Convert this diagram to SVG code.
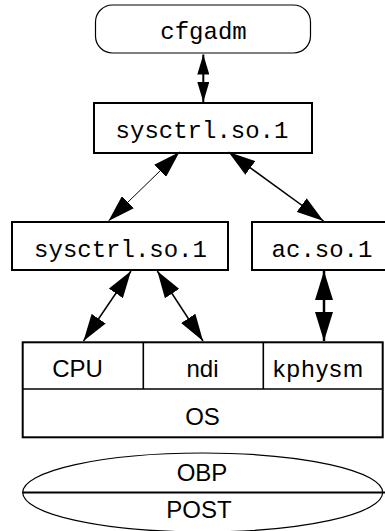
<svg xmlns="http://www.w3.org/2000/svg" width="385" height="531" viewBox="0 0 385 531">
<defs>
<style>
.box{fill:#fff;stroke:#000;stroke-width:2}
.thin{fill:none;stroke:#000;stroke-width:1.2}
.mono{font-family:"Liberation Mono","Courier New",monospace;font-size:24px;fill:#000;text-anchor:middle}
.sans{font-family:"Liberation Sans",Arial,sans-serif;font-size:24px;fill:#000;text-anchor:middle}
.conn line{stroke:#000}
</style>
<marker id="hs" markerUnits="userSpaceOnUse" markerWidth="20" markerHeight="12" refX="20" refY="6" orient="auto-start-reverse" viewBox="0 0 20 12">
<path d="M0,0 L20,6 L0,12 Z" fill="#000"/>
</marker>
<marker id="hb" markerUnits="userSpaceOnUse" markerWidth="27" markerHeight="17" refX="27" refY="8.5" orient="auto-start-reverse" viewBox="0 0 27 17">
<path d="M0,0 L27,8.5 L0,17 Z" fill="#000"/>
</marker>
<marker id="hk" markerUnits="userSpaceOnUse" markerWidth="29" markerHeight="18" refX="29" refY="9" orient="auto-start-reverse" viewBox="0 0 29 18">
<path d="M0,0 L29,9 L0,18 Z" fill="#000"/>
</marker>
</defs>
<g id="cfgadm">
<rect class="thin" x="95.5" y="5" width="215" height="48" rx="17" ry="17"/>
<text class="mono" x="203.5" y="39">cfgadm</text>
</g>
<g id="sysctrl-top">
<rect class="box" x="94" y="103" width="218" height="50"/>
<text class="mono" x="202" y="138">sysctrl.so.1</text>
</g>
<g id="sysctrl-left">
<rect class="box" x="12" y="222" width="216" height="48"/>
<text class="mono" x="120.5" y="256.5">sysctrl.so.1</text>
</g>
<g id="ac">
<rect class="box" x="252" y="222" width="140" height="48"/>
<text class="mono" x="322" y="256.5">ac.so.1</text>
</g>
<g id="kernel">
<rect class="box" x="22.7" y="342.3" width="360" height="95"/>
<line x1="22.7" y1="389" x2="382.7" y2="389" stroke="#000" stroke-width="1.6"/>
<line x1="143.3" y1="342.3" x2="143.3" y2="389" stroke="#000" stroke-width="1.6"/>
<line x1="263.3" y1="342.3" x2="263.3" y2="389" stroke="#000" stroke-width="1.6"/>
<text class="sans" x="77.5" y="377.3">CPU</text>
<text class="sans" x="202.5" y="377.3">ndi</text>
<text class="sans" x="318" y="377.3" textLength="90" lengthAdjust="spacing">kphysm</text>
<text class="sans" x="202.5" y="425">OS</text>
</g>
<g id="firmware">
<ellipse cx="202.7" cy="492.5" rx="180" ry="39.5" fill="#fff" stroke="#000" stroke-width="1.2"/>
<line x1="22.7" y1="492.5" x2="385" y2="492.5" stroke="#000" stroke-width="1.8"/>
<text class="sans" x="202" y="480.7">OBP</text>
<text class="sans" x="199" y="518.3">POST</text>
</g>
<g id="connectors" class="conn">
<line x1="203.3" y1="54.5" x2="203.3" y2="102" stroke-width="2" marker-start="url(#hs)" marker-end="url(#hs)"/>
<line x1="179.5" y1="152" x2="108.5" y2="221" stroke-width="1" marker-start="url(#hb)" marker-end="url(#hb)"/>
<line x1="228.5" y1="152" x2="323.5" y2="221" stroke-width="1.5" marker-start="url(#hb)" marker-end="url(#hb)"/>
<line x1="131" y1="271" x2="83.5" y2="341" stroke-width="1.5" marker-start="url(#hb)" marker-end="url(#hb)"/>
<line x1="157.3" y1="271" x2="203" y2="341" stroke-width="1.5" marker-start="url(#hb)" marker-end="url(#hb)"/>
<line x1="324" y1="271" x2="324" y2="341" stroke-width="2.5" marker-start="url(#hk)" marker-end="url(#hk)"/>
</g>
</svg>
